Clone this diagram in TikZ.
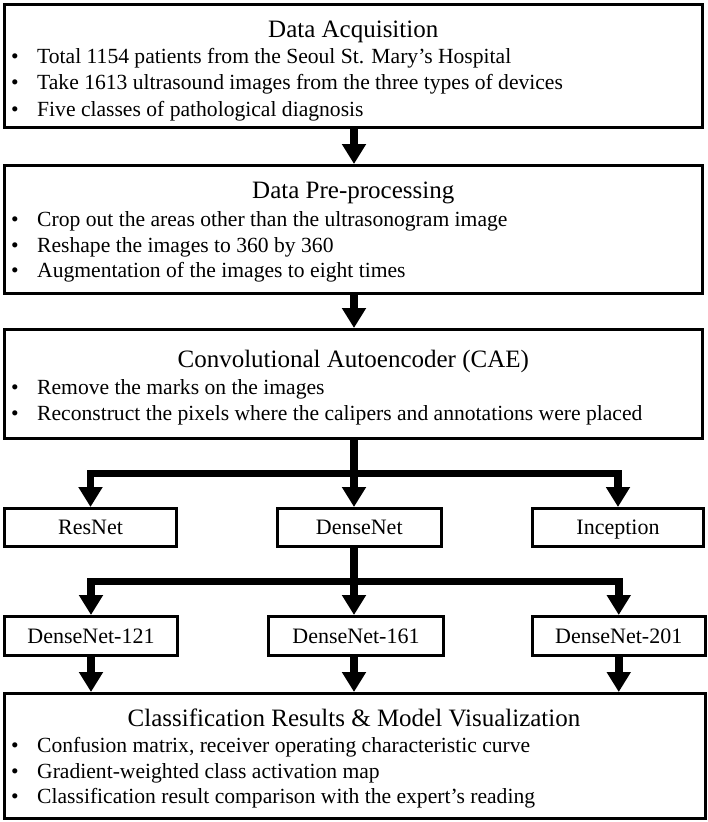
\documentclass[tikz,border=0pt]{standalone}
\usepackage{fontspec}
\setmainfont{Liberation Serif}
\usetikzlibrary{arrows.meta}
\newcommand\bulline[3]{%
  \node[dotn] (#1d) at (15,#2) {•};
  \node[itm] (#1) at (37,#2) {#3};}
\begin{document}
\begin{tikzpicture}[x=1pt,y=-1pt,
  bigbox/.style={draw, line width=3pt, inner sep=0pt},
  smallbox/.style={draw, line width=3pt, inner sep=0pt,
    font=\fontsize{22}{26}\selectfont, text height=14.5pt, text depth=0pt},
  ttl/.style={anchor=base, inner sep=0pt, font=\fontsize{25}{30}\selectfont},
  itm/.style={anchor=base west, inner sep=0pt, font=\fontsize{21.6}{26}\selectfont},
  dotn/.style={anchor=base, inner sep=0pt, font=\fontsize{21.6}{26}\selectfont},
  trunk/.style={line width=7.5pt},
  arr/.style={line width=7.5pt, -{Triangle[width=23pt,length=20pt]}}]
\useasboundingbox (0,0) rectangle (708,822);

% main boxes
\node[bigbox, minimum width=697.5pt, minimum height=123pt] (b1) at (353.25,66) {};
\node[bigbox, minimum width=697.5pt, minimum height=127.5pt] (b2) at (353.25,229.25) {};
\node[bigbox, minimum width=697.5pt, minimum height=109pt] (b3) at (353.25,384) {};
\node[bigbox, minimum width=700.5pt, minimum height=125pt] (b5) at (354.75,756) {};

% small boxes
\node[smallbox, minimum width=172pt, minimum height=38pt] (resnet) at (90.5,527.5) {ResNet};
\node[smallbox, minimum width=163.5pt, minimum height=38pt] (densenet) at (359.25,527.5) {DenseNet};
\node[smallbox, minimum width=171pt, minimum height=38pt] (inception) at (618,527.5) {Inception};
\node[smallbox, minimum width=173pt, minimum height=39pt] (d121) at (91,636) {DenseNet-121};
\node[smallbox, minimum width=175pt, minimum height=39pt] (d161) at (356,636) {DenseNet-161};
\node[smallbox, minimum width=172.5pt, minimum height=39pt] (d201) at (618.75,636) {DenseNet-201};

% texts box 1
\node[ttl] (t1) at (353.25,37) {Data Acquisition};
\bulline{b1a}{63}{Total 1154 patients from the Seoul St. Mary’s Hospital}
\bulline{b1b}{89.5}{Take 1613 ultrasound images from the three types of devices}
\bulline{b1c}{116}{Five classes of pathological diagnosis}

% texts box 2
\node[ttl] (t2) at (353.25,198) {Data Pre-processing};
\bulline{b2a}{226}{Crop out the areas other than the ultrasonogram image}
\bulline{b2b}{252}{Reshape the images to 360 by 360}
\bulline{b2c}{277.5}{Augmentation of the images to eight times}

% texts box 3
\node[ttl] (t3) at (353.25,367) {Convolutional Autoencoder (CAE)};
\bulline{b3a}{394}{Remove the marks on the images}
\bulline{b3b}{420}{Reconstruct the pixels where the calipers and annotations were placed}

% texts box 5
\node[ttl] (t5) at (354,726) {Classification Results \& Model Visualization};
\bulline{b5a}{752.5}{Confusion matrix, receiver operating characteristic curve}
\bulline{b5b}{778}{Gradient-weighted class activation map}
\bulline{b5c}{803.5}{Classification result comparison with the expert’s reading}

% connectors
\coordinate (cx) at (354,0);
\draw[arr] (b1.south -| cx) -- (b2.north -| cx);
\draw[arr] (b2.south -| cx) -- (b3.north -| cx);

\coordinate (j1) at (354,473.5);
\draw[trunk] (b3.south -| j1) -- (j1);
\draw[arr] (j1) -| (resnet.north);
\draw[arr] (j1) -- (densenet.north -| j1);
\draw[arr] (j1) -| (inception.north);

\coordinate (j2) at (354,581.5);
\draw[trunk] (densenet.south -| j2) -- (j2);
\draw[arr] (j2) -| (d121.north);
\draw[arr] (j2) -- (d161.north -| j2);
\draw[arr] (j2) -| (d201.north);

\draw[arr] (d121.south) -- (d121.south |- b5.north);
\draw[arr] (d161.south -| j2) -- (b5.north -| j2);
\draw[arr] (d201.south) -- (d201.south |- b5.north);
\end{tikzpicture}
\end{document}
